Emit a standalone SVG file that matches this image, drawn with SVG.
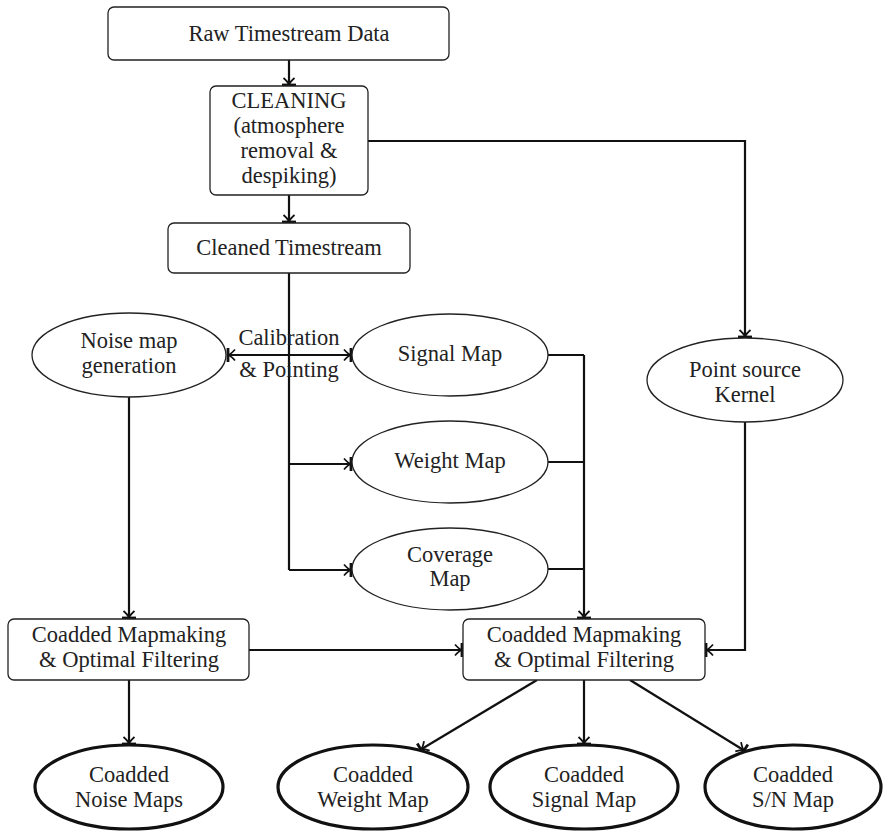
<svg xmlns="http://www.w3.org/2000/svg" width="883" height="831" viewBox="0 0 883 831">
<style>
text{font-family:"Liberation Serif","DejaVu Serif",serif;font-size:22.5px;fill:#222;text-anchor:middle}
.box{fill:#fff;stroke:#222;stroke-width:1.3}
.ell{fill:#fff;stroke:#222;stroke-width:1.3}
.out{fill:#fff;stroke:#111;stroke-width:3.2}
.c{fill:none;stroke:#111;stroke-width:2.2;marker-end:url(#tip)}
.p{fill:none;stroke:#111;stroke-width:2.2}
</style>
<defs>
<marker id="tip" markerUnits="userSpaceOnUse" viewBox="-10 -9 12 18" refX="0" refY="0" markerWidth="12" markerHeight="18" orient="auto-start-reverse">
<path d="M -8,-5.5 C -5,-2.2 -3.2,-0.7 -1.5,0 C -3.2,0.7 -5,2.2 -8,5.5" fill="none" stroke="#111" stroke-width="1.8"/>
<line x1="-1" y1="-7" x2="-1" y2="7" stroke="#111" stroke-width="2.8"/>
</marker>
</defs>
<g id="connectors">
<path class="c" d="M289,60 V86"/>
<path class="c" d="M289,195 V223"/>
<path class="c" d="M368,141 H745 V338"/>
<path class="p" d="M289,273 V570"/>
<path class="c" d="M289,464 H352"/>
<path class="c" d="M289,570 H352"/>
<path class="c" d="M227,355 H352" style="marker-start:url(#tip)"/>
<path class="p" d="M548,355 H584"/>
<path class="p" d="M548,462 H584"/>
<path class="p" d="M548,569 H584"/>
<path class="c" d="M584,355 V619"/>
<path class="c" d="M129,397 V619"/>
<path class="c" d="M249,650 H463"/>
<path class="c" d="M745,422 V650 H705"/>
<path class="c" d="M129,680 V745"/>
<path class="c" d="M537,680 L420,750"/>
<path class="c" d="M584,680 V745"/>
<path class="c" d="M630,680 L745,751"/>
<text x="289" y="345">Calibration</text>
<text x="289" y="377">&amp; Pointing</text>
</g>
<g id="raw"><rect class="box" x="108" y="7" width="341" height="53" rx="6"/><text x="289" y="41">Raw Timestream Data</text></g>
<g id="cleaning"><rect class="box" x="210" y="86" width="158" height="109" rx="6"/>
<text x="289" y="108">CLEANING</text><text x="289" y="133">(atmosphere</text><text x="289" y="158">removal &amp;</text><text x="289" y="183">despiking)</text></g>
<g id="cleaned"><rect class="box" x="168" y="223" width="242" height="50" rx="6"/><text x="289" y="255">Cleaned Timestream</text></g>
<g id="noisegen"><ellipse class="ell" cx="129" cy="355" rx="97" ry="42"/><text x="129" y="348">Noise map</text><text x="129" y="373">generation</text></g>
<g id="signal"><ellipse class="ell" cx="450" cy="355" rx="98" ry="41"/><text x="450" y="361">Signal Map</text></g>
<g id="weight"><ellipse class="ell" cx="450" cy="462" rx="98" ry="41"/><text x="450" y="468">Weight Map</text></g>
<g id="coverage"><ellipse class="ell" cx="450" cy="569" rx="98" ry="41"/><text x="450" y="562">Coverage</text><text x="450" y="586">Map</text></g>
<g id="kernel"><ellipse class="ell" cx="745" cy="380" rx="98" ry="42"/><text x="745" y="377">Point source</text><text x="745" y="402">Kernel</text></g>
<g id="mapL"><rect class="box" x="8" y="619" width="241" height="61" rx="6"/><text x="129" y="642">Coadded Mapmaking</text><text x="129" y="667">&amp; Optimal Filtering</text></g>
<g id="mapR"><rect class="box" x="463" y="619" width="242" height="61" rx="6"/><text x="584" y="642">Coadded Mapmaking</text><text x="584" y="667">&amp; Optimal Filtering</text></g>
<g id="outNoise"><ellipse class="out" cx="129" cy="787" rx="94" ry="42"/><text x="129" y="782">Coadded</text><text x="129" y="807">Noise Maps</text></g>
<g id="outWeight"><ellipse class="out" cx="373" cy="787" rx="95" ry="42"/><text x="373" y="782">Coadded</text><text x="373" y="807">Weight Map</text></g>
<g id="outSignal"><ellipse class="out" cx="584" cy="787" rx="94" ry="42"/><text x="584" y="782">Coadded</text><text x="584" y="807">Signal Map</text></g>
<g id="outSN"><ellipse class="out" cx="793" cy="787" rx="88" ry="42"/><text x="793" y="782">Coadded</text><text x="793" y="807">S/N Map</text></g>
</svg>
